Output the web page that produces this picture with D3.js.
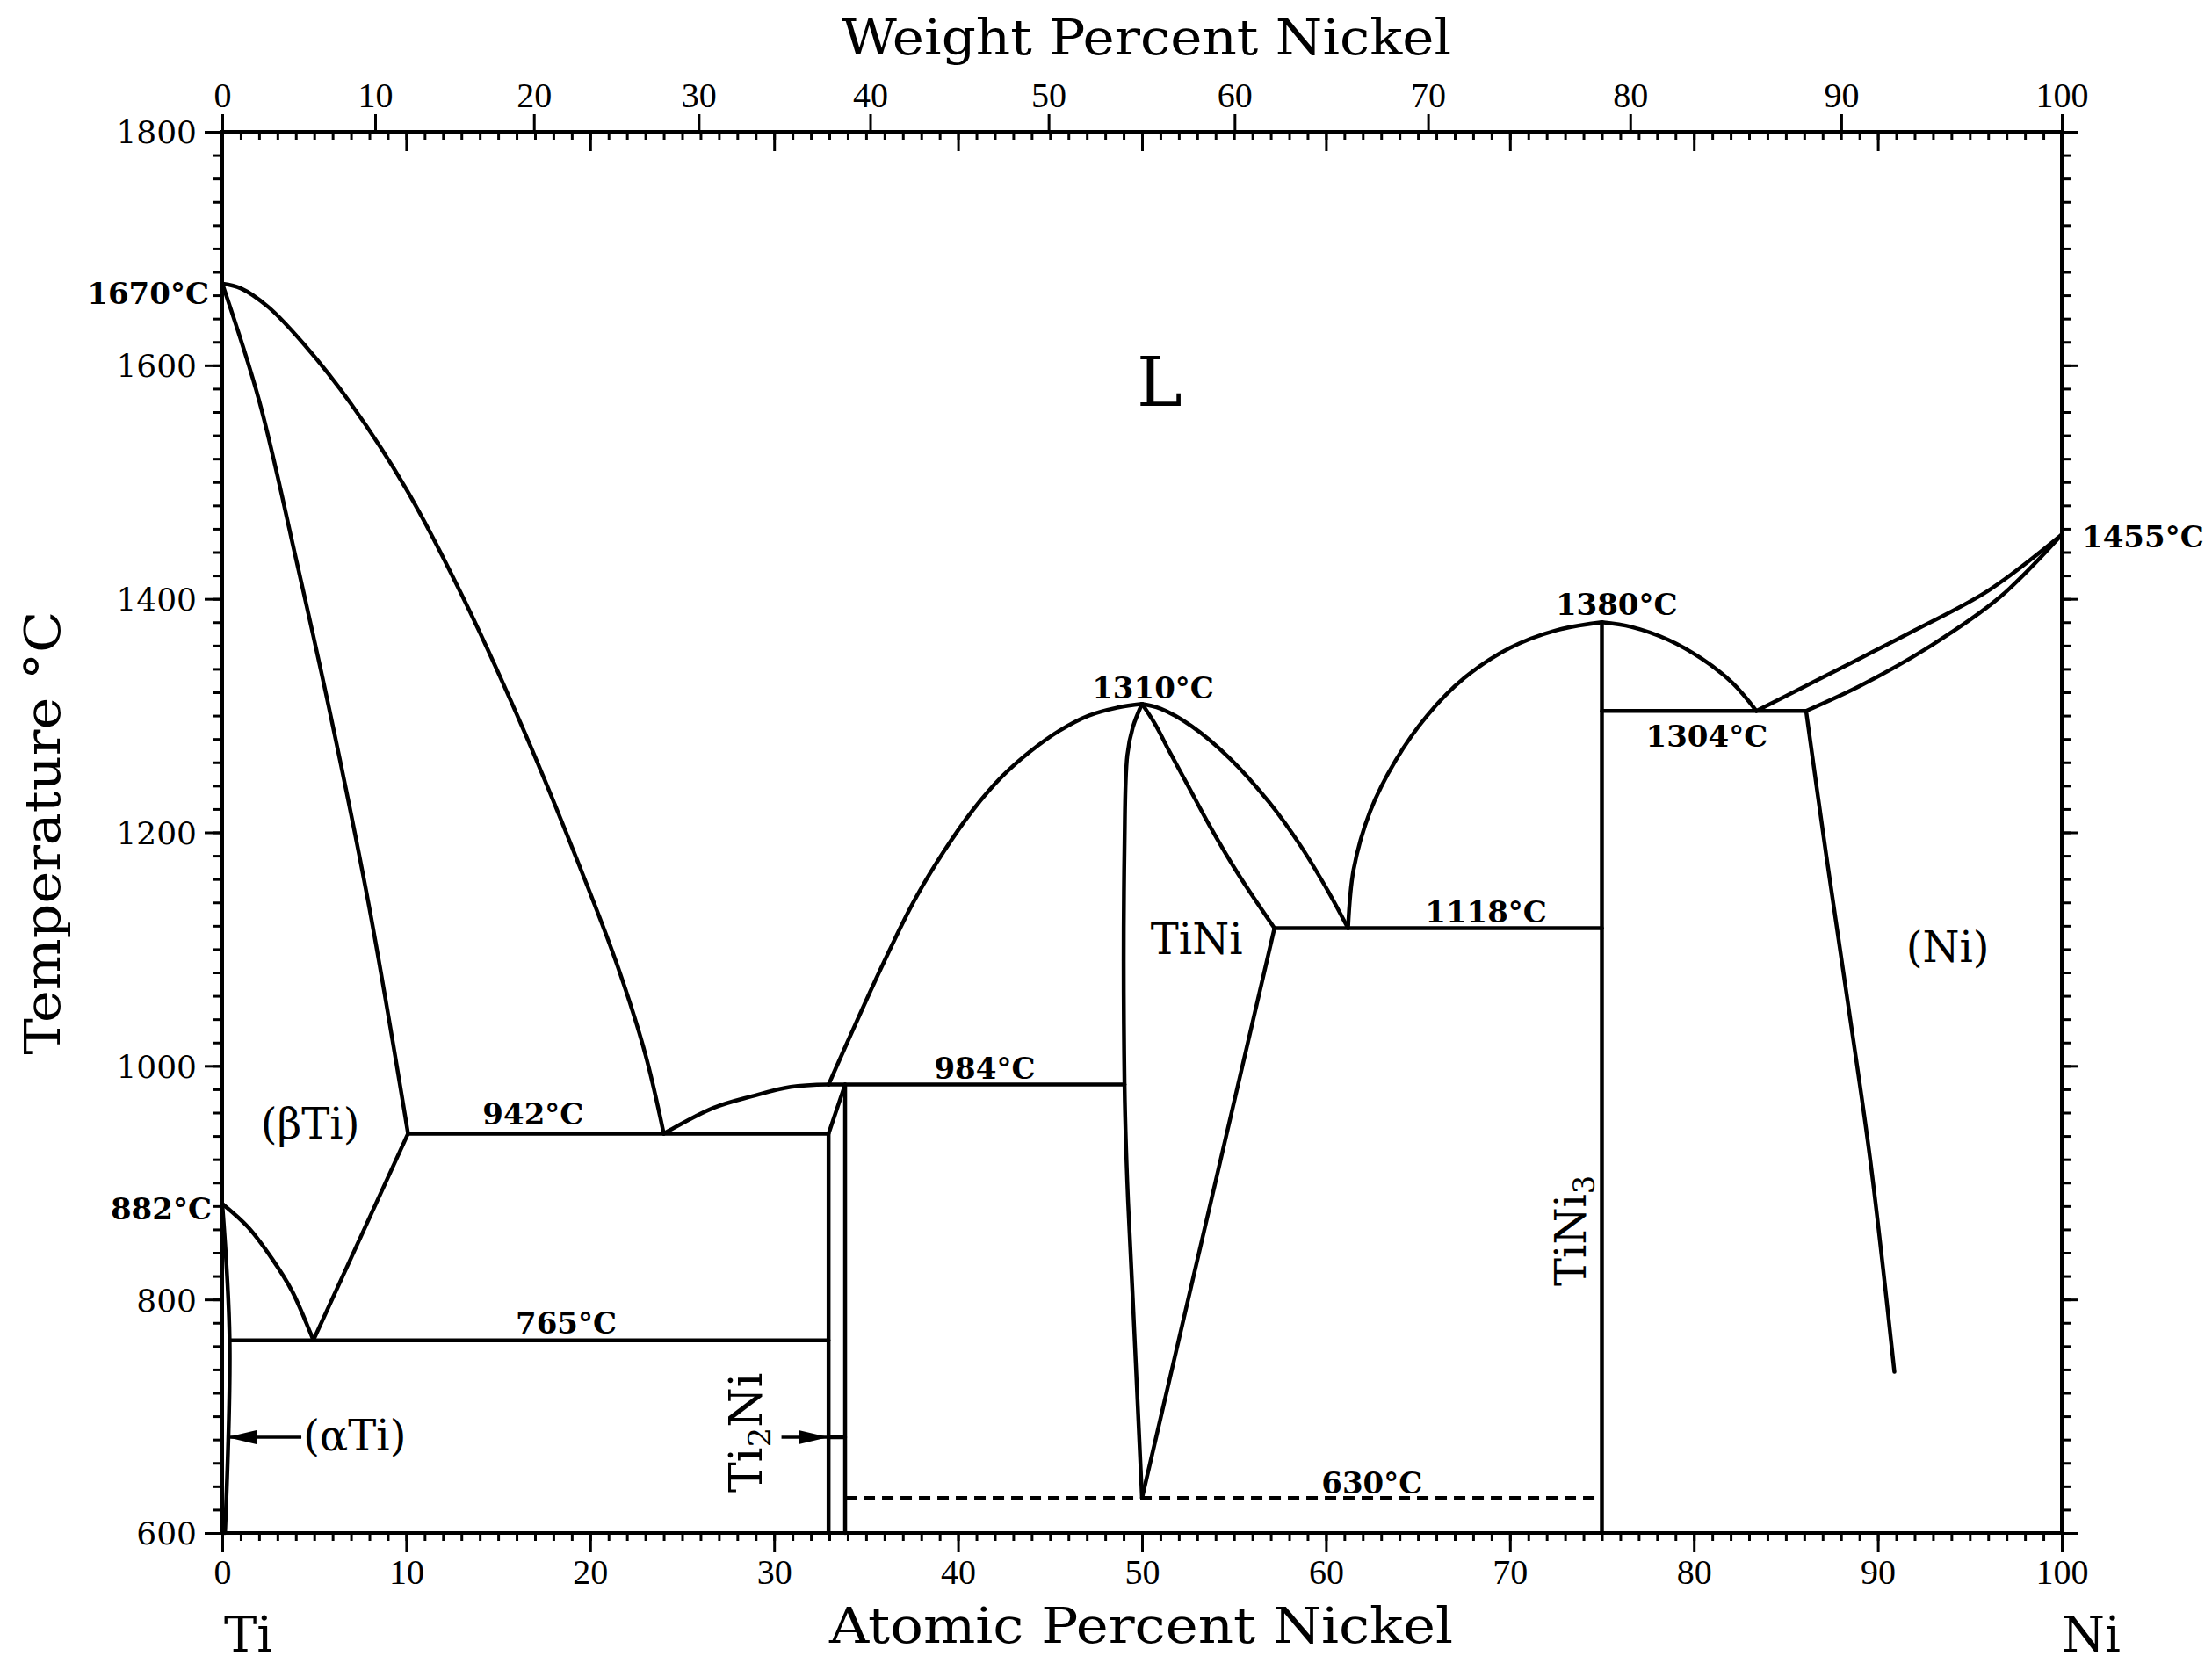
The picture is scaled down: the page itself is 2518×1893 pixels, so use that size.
<!DOCTYPE html>
<html>
<head>
<meta charset="utf-8">
<script src="https://cdn.jsdelivr.net/npm/d3@7"></script>
<style>
  body { margin: 0; background: #fff; }
  svg { display: block; }
</style>
</head>
<body>
<div id="root"></div>
<script>
// Ti-Ni phase diagram, points are [atomic % Ni, temperature °C]
const tiLiquidus = [[0, 1670], [1.0, 1666], [2.5, 1650], [4.5, 1617], [7, 1567], [10, 1494], [13, 1404], [16.4, 1287], [19.8, 1156], [21.5, 1085], [23.0, 1010], [24.0, 942]];
const betaSolidus = [[0, 1670], [2, 1570], [4, 1435], [6, 1292], [8, 1135], [10.1, 942]];
const betaTransus = [[0, 882], [1.4, 862], [2.7, 835], [3.8, 807], [4.8, 771], [4.95, 765]];
const betaSolvus = [[4.95, 765], [10.1, 942]];
const alphaSolvus = [[0, 882], [0.4, 765], [0.15, 600]];
const ti2NiLiquidus = [[24.0, 942], [26.7, 964], [28.8, 974], [30.9, 982], [32.96, 984]];
const tiNiLiquidusLeft = [[32.96, 984], [34.4, 1035], [36.0, 1090], [37.6, 1141], [39.2, 1183], [40.8, 1219], [42.4, 1248], [43.9, 1269], [45.5, 1287], [47.1, 1300], [48.7, 1307], [50, 1310]];
const tiNiLiquidusRight = [[50, 1310], [51.0, 1306], [52.7, 1291], [54.8, 1263], [56.9, 1226], [58.6, 1189], [60.1, 1150], [61.2, 1118]];
const tiNiSolidusRight = [[50, 1310], [50.7, 1293], [51.5, 1269], [52.5, 1240], [53.7, 1205], [55.2, 1165], [57.2, 1118]];
const tiNiLeft = [[50, 1310], [49.5, 1290], [49.2, 1266], [49.05, 1190], [49.05, 984], [49.2, 900], [49.5, 800], [50.0, 630]];
const tiNiRightLower = [[50.0, 630], [57.2, 1118]];
const tiNi3LiquidusLeft = [[61.2, 1118], [61.5, 1168], [62.4, 1218], [63.8, 1262], [65.5, 1300], [67.5, 1332], [70, 1358], [72.5, 1373], [75, 1380]];
const tiNi3LiquidusRight = [[75, 1380], [76.6, 1376], [78.6, 1365], [80.4, 1349], [82.1, 1328], [83.4, 1304]];
const niLiquidus = [[83.4, 1304], [87.9, 1340], [92.0, 1373], [96.0, 1407], [100, 1455]];
const niSolidus = [[86.1, 1304], [89.1, 1326], [92.9, 1360], [96.6, 1401], [100, 1455]];
const niSolvus = [[86.1, 1304], [87.2, 1180], [88.4, 1051], [89.6, 918], [90.9, 738]];

const eutectoid765 = [[0.4, 765], [32.96, 765]];
const eutectic942 = [[10.1, 942], [32.96, 942]];
const ti2NiLeft = [[32.96, 600], [32.96, 942], [33.86, 984]];
const ti2NiRight = [[33.86, 600], [33.86, 984]];
const peritectic984 = [[32.96, 984], [49.05, 984]];
const eutectic1118 = [[57.2, 1118], [75, 1118]];
const tiNi3Line = [[75, 600], [75, 1380]];
const eutectic1304 = [[75, 1304], [86.1, 1304]];
const reaction630 = [[33.86, 630], [75, 630]];

const alphaArrow = [[4.3, 682], [0.25, 682]];
const ti2NiArrow = [[30.4, 682], [32.96, 682]];
const ti2NiBar = [[32.96, 682], [33.86, 682]];

// axis ticks
const atTicksMinor = d3.range(0, 101, 1);
const atTicksMajor = d3.range(0, 101, 10);
const tempTicksMinor = d3.range(600, 1801, 20);
const tempTicksMajor = d3.range(600, 1801, 200);
const wtTicks = [0, 10, 20, 30, 40, 50, 60, 70, 80, 90, 100];
const wtTickAt = [0, 8.31, 16.94, 25.90, 35.22, 44.92, 55.03, 65.55, 76.54, 88.01, 100];

// isotherm labels [text, at%, °C]
const isothermLabels = [
  ["942°C", 16.9, 950],
  ["765°C", 18.7, 771],
  ["984°C", 41.45, 989],
  ["1310°C", 50.6, 1315],
  ["1118°C", 68.7, 1123],
  ["1380°C", 75.8, 1386],
  ["1304°C", 80.7, 1273],
  ["630°C", 62.5, 634],
];

const width = 2518;
const height = 1893;
const x = d3.scaleLinear([0, 100], [253, 2347]);
const y = d3.scaleLinear([600, 1800], [1745, 150]);
const xWt = d3.scaleLinear(wtTicks, wtTickAt.map(x));

const serif = "'DejaVu Serif', serif";
const narrow = "'Liberation Serif', serif";
const lineWidth = 4.5;

const svg = d3.select("#root").append("svg")
  .attr("width", width)
  .attr("height", height)
  .attr("viewBox", `0 0 ${width} ${height}`);

svg.append("rect").attr("width", width).attr("height", height).attr("fill", "#fff");

const tidy = g => {
  g.select(".domain").remove();
  g.selectAll("line").attr("stroke-width", 3);
};

// bottom axis (atomic %)
svg.append("g")
  .attr("transform", `translate(0,${y(600)})`)
  .call(d3.axisBottom(x).tickValues(atTicksMinor).tickSize(9).tickFormat(""))
  .call(tidy);
svg.append("g")
  .attr("transform", `translate(0,${y(600)})`)
  .call(d3.axisBottom(x).tickValues(atTicksMajor).tickSize(22))
  .call(tidy)
  .call(g => g.selectAll("text")
    .attr("y", 58).attr("dy", null)
    .attr("font-family", narrow).attr("font-size", 40));

// top axis: atomic % ticks inside, weight % ticks outside
svg.append("g")
  .attr("transform", `translate(0,${y(1800)})`)
  .call(d3.axisBottom(x).tickValues(atTicksMinor).tickSize(9).tickFormat(""))
  .call(tidy);
svg.append("g")
  .attr("transform", `translate(0,${y(1800)})`)
  .call(d3.axisBottom(x).tickValues(atTicksMajor).tickSize(22).tickFormat(""))
  .call(tidy);
svg.append("g")
  .attr("transform", `translate(0,${y(1800)})`)
  .call(d3.axisTop(xWt).tickValues(wtTicks).tickSize(20).tickFormat(d3.format("d")))
  .call(tidy)
  .call(g => g.selectAll("text")
    .attr("y", -28).attr("dy", null)
    .attr("font-family", narrow).attr("font-size", 40));

// left axis
svg.append("g")
  .attr("transform", `translate(${x(0)},0)`)
  .call(d3.axisLeft(y).tickValues(tempTicksMinor).tickSize(10).tickFormat(""))
  .call(tidy);
svg.append("g")
  .attr("transform", `translate(${x(0)},0)`)
  .call(d3.axisLeft(y).tickValues(tempTicksMajor).tickSize(20).tickPadding(9).tickFormat(d3.format("d")))
  .call(tidy)
  .call(g => g.selectAll("text")
    .attr("dy", "0.36em")
    .attr("font-family", serif).attr("font-size", 36));

// right axis
svg.append("g")
  .attr("transform", `translate(${x(100)},0)`)
  .call(d3.axisRight(y).tickValues(tempTicksMinor).tickSize(10).tickFormat(""))
  .call(tidy);
svg.append("g")
  .attr("transform", `translate(${x(100)},0)`)
  .call(d3.axisRight(y).tickValues(tempTicksMajor).tickSize(18).tickFormat(""))
  .call(tidy);

// frame
svg.append("rect")
  .attr("x", x(0)).attr("y", y(1800))
  .attr("width", x(100) - x(0)).attr("height", y(600) - y(1800))
  .attr("fill", "none").attr("stroke", "#000").attr("stroke-width", 4);

// phase boundaries
const smooth = d3.line().x(d => x(d[0])).y(d => y(d[1])).curve(d3.curveCatmullRom.alpha(0.5));
const straight = d3.line().x(d => x(d[0])).y(d => y(d[1]));

const curves = [
  tiLiquidus, betaSolidus, betaTransus, alphaSolvus, ti2NiLiquidus,
  tiNiLiquidusLeft, tiNiLiquidusRight, tiNiSolidusRight, tiNiLeft,
  tiNi3LiquidusLeft, tiNi3LiquidusRight, niLiquidus, niSolidus, niSolvus,
];
const segments = [
  betaSolvus, eutectoid765, eutectic942, ti2NiLeft, ti2NiRight, peritectic984,
  tiNiRightLower, eutectic1118, tiNi3Line, eutectic1304, ti2NiBar,
];

const phase = svg.append("g")
  .attr("fill", "none")
  .attr("stroke", "#000")
  .attr("stroke-width", lineWidth)
  .attr("stroke-linejoin", "round")
  .attr("stroke-linecap", "round");

phase.selectAll("path.curve")
  .data(curves)
  .join("path")
  .attr("class", "curve")
  .attr("d", smooth);

phase.selectAll("path.segment")
  .data(segments)
  .join("path")
  .attr("class", "segment")
  .attr("d", straight);

phase.append("path")
  .datum(reaction630)
  .attr("d", straight)
  .attr("stroke-linecap", "butt")
  .attr("stroke-dasharray", "13 8");

// arrows
svg.append("defs").append("marker")
  .attr("id", "head")
  .attr("markerUnits", "userSpaceOnUse")
  .attr("viewBox", "0 0 34 18")
  .attr("markerWidth", 34)
  .attr("markerHeight", 18)
  .attr("refX", 34)
  .attr("refY", 9)
  .attr("orient", "auto")
  .append("path")
  .attr("d", "M0,1 L34,9 L0,17 Z")
  .attr("fill", "#000");

svg.selectAll("path.arrow")
  .data([alphaArrow, ti2NiArrow])
  .join("path")
  .attr("class", "arrow")
  .attr("d", straight)
  .attr("fill", "none")
  .attr("stroke", "#000")
  .attr("stroke-width", 3.5)
  .attr("marker-end", "url(#head)");

// isotherm labels
svg.append("g")
  .attr("font-family", serif)
  .attr("font-weight", "bold")
  .attr("font-size", 34)
  .attr("text-anchor", "middle")
  .selectAll("text")
  .data(isothermLabels)
  .join("text")
  .attr("x", d => x(d[1]))
  .attr("y", d => y(d[2]))
  .text(d => d[0]);

// melting / transformation points on the axes
const axisNotes = svg.append("g")
  .attr("font-family", serif)
  .attr("font-weight", "bold")
  .attr("font-size", 34);
axisNotes.append("text")
  .attr("x", x(0) - 15).attr("y", y(1670) + 23)
  .attr("text-anchor", "end").text("1670°C");
axisNotes.append("text")
  .attr("x", x(0) - 12).attr("y", y(882) + 18)
  .attr("text-anchor", "end").text("882°C");
axisNotes.append("text")
  .attr("x", x(100) + 23).attr("y", y(1455) + 14)
  .text("1455°C");

// phase labels
const phaseLabels = svg.append("g")
  .attr("font-family", serif)
  .attr("font-size", 48);

phaseLabels.append("text")
  .attr("x", x(50.95)).attr("y", y(1565))
  .attr("text-anchor", "middle")
  .attr("font-size", 78)
  .text("L");
phaseLabels.append("text")
  .attr("x", x(4.78)).attr("y", y(938))
  .attr("text-anchor", "middle")
  .text("(βTi)");
phaseLabels.append("text")
  .attr("x", x(4.4)).attr("y", y(671))
  .text("(αTi)");
phaseLabels.append("text")
  .attr("x", x(52.97)).attr("y", y(1096))
  .attr("text-anchor", "middle")
  .text("TiNi");
phaseLabels.append("text")
  .attr("x", x(93.8)).attr("y", y(1089))
  .attr("text-anchor", "middle")
  .text("(Ni)");

const ti2Ni = phaseLabels.append("text")
  .attr("text-anchor", "middle")
  .attr("font-size", 52)
  .attr("transform", `translate(${x(29.3)},${y(686)}) rotate(-90)`);
ti2Ni.append("tspan").text("Ti");
ti2Ni.append("tspan").attr("font-size", 36).attr("dy", 10).text("2");
ti2Ni.append("tspan").attr("dy", -10).text("Ni");

const tiNi3 = phaseLabels.append("text")
  .attr("text-anchor", "middle")
  .attr("transform", `translate(${x(74.1)},${y(859)}) rotate(-90)`);
tiNi3.append("tspan").text("TiNi");
tiNi3.append("tspan").attr("font-size", 34).attr("dy", 10).text("3");

// axis titles
const titles = svg.append("g")
  .attr("font-family", serif)
  .attr("font-size", 56);

titles.append("text")
  .attr("x", 1305).attr("y", 62)
  .attr("text-anchor", "middle")
  .attr("textLength", 694).attr("lengthAdjust", "spacingAndGlyphs")
  .text("Weight Percent Nickel");
titles.append("text")
  .attr("x", 1299).attr("y", 1870)
  .attr("text-anchor", "middle")
  .attr("textLength", 710).attr("lengthAdjust", "spacingAndGlyphs")
  .text("Atomic Percent Nickel");
titles.append("text")
  .attr("transform", "translate(68,948) rotate(-90)")
  .attr("text-anchor", "middle")
  .attr("textLength", 505).attr("lengthAdjust", "spacingAndGlyphs")
  .text("Temperature °C");
titles.append("text")
  .attr("x", x(0) + 2).attr("y", 1880)
  .text("Ti");
titles.append("text")
  .attr("x", x(100)).attr("y", 1880)
  .text("Ni");
</script>
</body>
</html>
